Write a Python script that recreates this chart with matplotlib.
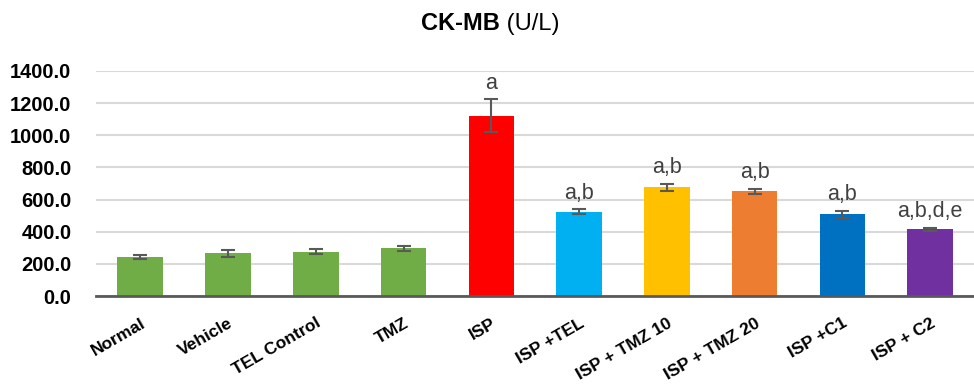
import matplotlib.pyplot as plt
import numpy as np

plt.rcParams["font.family"] = ["Liberation Sans", "DejaVu Sans"]

# CK-MB (U/L) per group: mean, SEM, significance letters
GROUPS = ["Normal", "Vehicle", "TEL Control", "TMZ", "ISP", "ISP +TEL",
          "ISP + TMZ 10", "ISP + TMZ 20", "ISP +C1", "ISP + C2"]
MEANS = [245, 265, 277, 297, 1120, 525, 675, 650, 508, 415]
SEMS = [13, 20, 17, 16, 103, 15, 23, 17, 22, 10]
LETTERS = ["", "", "", "", "a", "a,b", "a,b", "a,b", "a,b", "a,b,d,e"]
COLORS = ["#70AD47", "#70AD47", "#70AD47", "#70AD47", "#FF0000",
          "#00B0F0", "#FFC000", "#ED7D31", "#0070C0", "#7030A0"]
YTICKS = [0, 200, 400, 600, 800, 1000, 1200, 1400]

fig = plt.figure(figsize=(9.74, 3.85), dpi=100)
ax = fig.add_axes([0.099, 0.231, 0.901, 0.585])

x = np.arange(len(GROUPS))
ax.bar(x, MEANS, width=0.52, color=COLORS, zorder=3,
       yerr=SEMS, capsize=5,
       error_kw=dict(ecolor="#595959", elinewidth=1.5, capthick=1.5))

for xi, m, s, lab in zip(x, MEANS, SEMS, LETTERS):
    if lab:
        ax.annotate(lab, (xi, m + s), xytext=(0, 4), textcoords="offset points",
                    ha="center", va="bottom", fontsize=15.5, color="#404040",
                    annotation_clip=False)

ax.set_xlim(-0.5, len(GROUPS) - 0.5)
ax.set_ylim(0, 1400)
ax.set_yticks(YTICKS)
ax.set_yticklabels([f"{v:.1f}" for v in YTICKS], fontsize=14.5, fontweight="bold")
ax.set_xticks(x)
ax.set_xticklabels(GROUPS, fontsize=12.5, fontweight="bold", rotation=30,
                   ha="right", va="top", rotation_mode="anchor")
ax.tick_params(axis="both", length=0)
ax.tick_params(axis="x", pad=14)
ax.tick_params(axis="y", pad=18)

ax.grid(axis="y", color="#d9d9d9", linewidth=1.5, zorder=0)
for side in ["top", "right", "left"]:
    ax.spines[side].set_visible(False)
ax.spines["bottom"].set_color("#595959")
ax.spines["bottom"].set_linewidth(2)
ax.spines["bottom"].set_zorder(4)

# title: bold analyte name followed by regular unit
fig.text(0.513, 0.938, "CK-MB", ha="right", va="center",
         fontsize=17, fontweight="bold")
fig.text(0.513, 0.938, " (U/L)", ha="left", va="center", fontsize=17)

fig.savefig("out.png", dpi=100)
